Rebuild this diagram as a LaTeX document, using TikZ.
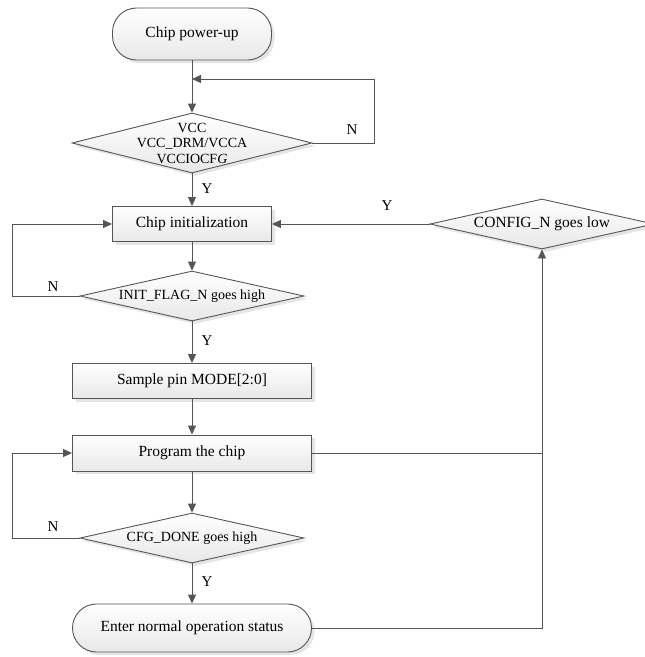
\documentclass[tikz,border=0pt]{standalone}
\usepackage{fontspec}
\setmainfont{Liberation Serif}
\usetikzlibrary{arrows.meta,shapes.geometric,shadows}
\definecolor{lncol}{HTML}{555555}
\tikzset{
  base/.style={draw=lncol, line width=0.9pt, top color=white, bottom color=gray!18,
    drop shadow={shadow xshift=3pt, shadow yshift=-3pt, fill=gray!25, opacity=0.8},
    inner sep=0pt, align=center},
  procbox/.style={base, rectangle, font=\fontsize{15.5}{17}\selectfont},
  termbox/.style={base, rectangle, rounded corners=24pt, font=\fontsize{15.5}{17}\selectfont},
  decbox/.style={base, diamond, minimum width=#1},
  dectext/.style={font=\fontsize{14}{15.5}\selectfont, align=center, inner sep=0pt},
  conn/.style={draw=lncol, line width=0.9pt},
  arr/.style={conn, -{Triangle[length=9pt,width=8pt]}},
  lbl/.style={font=\fontsize{15}{17}\selectfont, inner sep=0pt}
}
\begin{document}
\begin{tikzpicture}[x=1pt,y=-1pt]
\useasboundingbox (0,0) rectangle (645,657);

\node[termbox, minimum width=159pt, minimum height=52pt] (start) at (192,34) {Chip power-up};
\node[decbox=240pt, minimum height=60pt,
  label={[dectext]center:VCC\\VCC\_DRM/VCCA\\VCCIOCF\textit{G}}] (d1) at (192,143) {};
\node[procbox, minimum width=159pt, minimum height=35pt] (init) at (192,224) {Chip initialization};
\node[decbox=224pt, minimum height=50pt,
  label={[dectext]center:INIT\_FLAG\_N goes high}] (d2) at (192,296) {};
\node[procbox, minimum width=239pt, minimum height=35pt] (sample) at (192,381) {Sample pin MODE[2:0]};
\node[procbox, minimum width=239pt, minimum height=36pt] (prog) at (192,453) {Program the chip};
\node[decbox=224pt, minimum height=50pt,
  label={[dectext]center:CFG\_DONE goes high}] (d3) at (192,538) {};
\node[termbox, minimum width=239pt, minimum height=48pt] (end) at (192,628) {Enter normal operation status};
\node[decbox=224pt, minimum height=50pt,
  label={[dectext, font=\fontsize{15.5}{17}\selectfont]center:CONFIG\_N goes low}] (cfg) at (542,224) {};

\coordinate (j1) at (192,79);

% main flow
\draw[arr] (start.south) -- (d1.north);
\draw[arr] (d1.east) -- (374,143) |- (j1);
\draw[arr] (d1.south) -- (init.north);
\draw[arr] (init.south) -- (d2.north);
\draw[arr] (d2.west) -- (12,296) |- (init.west);
\draw[arr] (d2.south) -- (sample.north);
\draw[arr] (sample.south) -- (prog.north);
\draw[arr] (prog.south) -- (d3.north);
\draw[arr] (d3.west) -- (12,538) |- (prog.west);
\draw[arr] (d3.south) -- (end.north);
\draw[arr] (end.east) -| (cfg.south);
\draw[conn] (prog.east) -- (prog.east -| cfg.south);
\draw[arr] (cfg.west) -- (init.east);

% labels
\node[lbl] (n1) at (352,130) {N};
\node[lbl] (y1) at (207,189) {Y};
\node[lbl] (n2) at (53,287) {N};
\node[lbl] (y2) at (207,341) {Y};
\node[lbl] (n3) at (53,527) {N};
\node[lbl] (y3) at (207,582) {Y};
\node[lbl] (y4) at (387,206) {Y};
\end{tikzpicture}
\end{document}
